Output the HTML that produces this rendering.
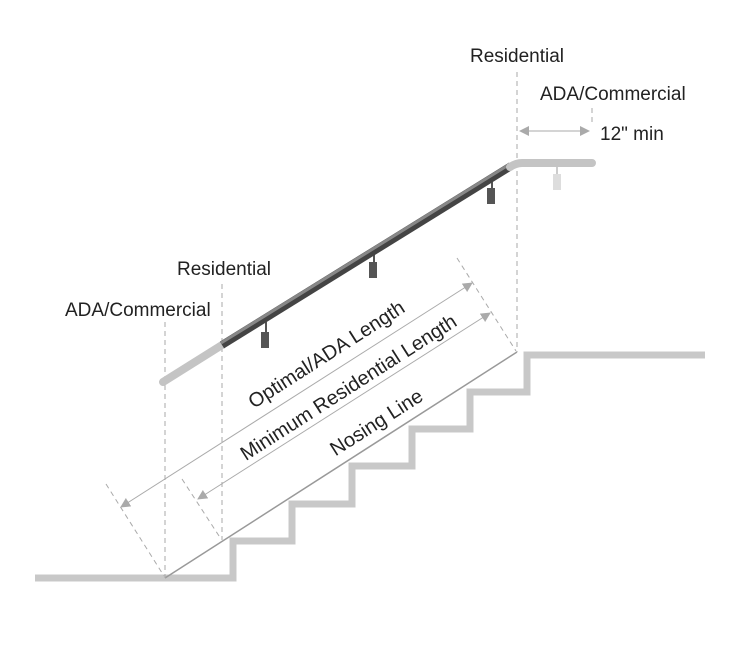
<!DOCTYPE html>
<html><head><style>
html,body{margin:0;padding:0;background:#fff;}
svg{display:block;}
text{font-family:"Liberation Sans",sans-serif;fill:#222;}
</style></head><body>
<svg width="750" height="647" viewBox="0 0 750 647" xmlns="http://www.w3.org/2000/svg">
<defs>
<marker id="ah" markerWidth="10" markerHeight="10" refX="9" refY="5" orient="auto" markerUnits="userSpaceOnUse"><path d="M0,0 L10,5 L0,10z" fill="#aaa"/></marker>
<marker id="ahs" markerWidth="10" markerHeight="10" refX="1" refY="5" orient="auto" markerUnits="userSpaceOnUse"><path d="M10,0 L0,5 L10,10z" fill="#aaa"/></marker>
</defs>
<path d="M35,578 H233 V541 H292 V504 H352 V466 H412 V429 H470 V392 H527 V355 H705" fill="none" stroke="#c8c8c8" stroke-width="7"/>
<line x1="165" y1="578" x2="517" y2="352" stroke="#999" stroke-width="1.5"/>
<g stroke="#aaa" stroke-width="1" stroke-dasharray="5,4" fill="none">
<line x1="165" y1="322" x2="165" y2="578"/>
<line x1="222" y1="284" x2="222" y2="540"/>
<line x1="517" y1="72" x2="517" y2="352"/>
<line x1="592" y1="108" x2="592" y2="126"/>
<line x1="106" y1="484" x2="164" y2="576"/>
<line x1="182" y1="479" x2="221" y2="539"/>
<line x1="457" y1="258" x2="516" y2="351"/>
</g>
<g stroke="#aaa" stroke-width="1">
<line x1="121" y1="507" x2="472" y2="283" marker-start="url(#ahs)" marker-end="url(#ah)"/>
<line x1="198" y1="499" x2="490" y2="313" marker-start="url(#ahs)" marker-end="url(#ah)"/>
<line x1="520" y1="131" x2="589" y2="131" marker-start="url(#ahs)" marker-end="url(#ah)"/>
</g>
<g>
<line x1="266" y1="322" x2="266" y2="336" stroke="#555" stroke-width="2"/><rect x="261" y="332" width="8" height="16" fill="#555"/>
<line x1="374" y1="252" x2="374" y2="264" stroke="#555" stroke-width="2"/><rect x="369" y="262" width="8" height="16" fill="#555"/>
<line x1="492" y1="178" x2="492" y2="190" stroke="#555" stroke-width="2"/><rect x="487" y="188" width="8" height="16" fill="#555"/>
<line x1="557" y1="166" x2="557" y2="176" stroke="#ccc" stroke-width="2"/><rect x="553" y="174" width="8" height="16" fill="#ddd"/>
</g>
<path d="M163,382 L222,345" stroke="#c4c4c4" stroke-width="8" stroke-linecap="round"/>
<path d="M222,345 L511,166" stroke="#444" stroke-width="8" stroke-linecap="butt"/>
<path d="M222,345 L511,166" stroke="#888" stroke-width="3" transform="translate(-1,-2)"/>
<path d="M510,167 Q516,163 522,163 L592,163" stroke="#c4c4c4" stroke-width="8" fill="none" stroke-linecap="round"/>
<text x="470" y="62" font-size="19">Residential</text>
<text x="540" y="100" font-size="19">ADA/Commercial</text>
<text x="600" y="140" font-size="19">12" min</text>
<text x="177" y="275" font-size="19">Residential</text>
<text x="65" y="316" font-size="19">ADA/Commercial</text>
<g font-size="20" text-anchor="middle">
<text transform="translate(330,360) rotate(-32.7)">Optimal/ADA Length</text>
<text transform="translate(352,393) rotate(-32.7)">Minimum Residential Length</text>
<text transform="translate(380,428) rotate(-32.7)">Nosing Line</text>
</g>
</svg>
</body></html>
